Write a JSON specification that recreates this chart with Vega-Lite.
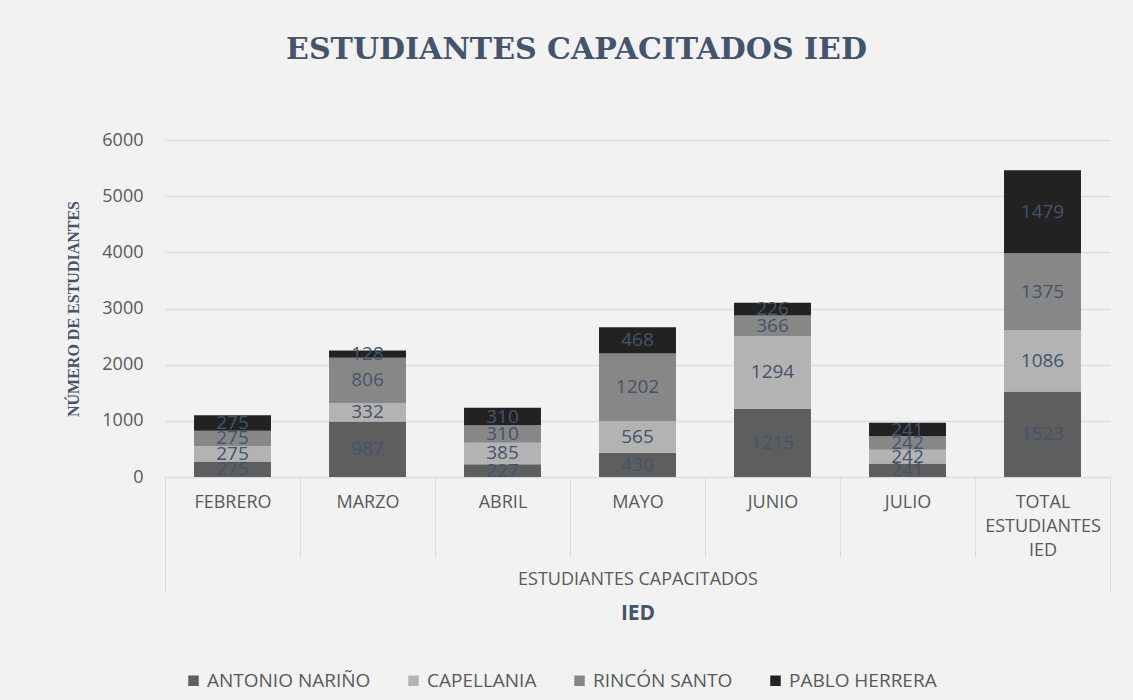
{
  "$schema": "https://vega.github.io/schema/vega-lite/v6.json",
  "width": 945,
  "height": 337,
  "autosize": {"type": "none"},
  "padding": {"left": 165, "top": 140, "right": 23, "bottom": 223},
  "background": "#f2f2f2",
  "title": {
    "text": "ESTUDIANTES CAPACITADOS IED",
    "font": "DejaVu Serif",
    "fontWeight": "bold",
    "fontSize": 30,
    "color": "#44546a",
    "anchor": "middle",
    "dx": -61,
    "offset": 66
  },
  "config": {
    "view": {"stroke": null},
    "font": "Open Sans"
  },
  "layer": [
    {
      "data": {
        "values": [
          {"mes": "FEBRERO", "ied": "ANTONIO NARIÑO", "orden": 1, "valor": 275},
          {"mes": "FEBRERO", "ied": "CAPELLANIA", "orden": 2, "valor": 275},
          {"mes": "FEBRERO", "ied": "RINCÓN SANTO", "orden": 3, "valor": 275},
          {"mes": "FEBRERO", "ied": "PABLO HERRERA", "orden": 4, "valor": 275},
          {"mes": "MARZO", "ied": "ANTONIO NARIÑO", "orden": 1, "valor": 987},
          {"mes": "MARZO", "ied": "CAPELLANIA", "orden": 2, "valor": 332},
          {"mes": "MARZO", "ied": "RINCÓN SANTO", "orden": 3, "valor": 806},
          {"mes": "MARZO", "ied": "PABLO HERRERA", "orden": 4, "valor": 128},
          {"mes": "ABRIL", "ied": "ANTONIO NARIÑO", "orden": 1, "valor": 227},
          {"mes": "ABRIL", "ied": "CAPELLANIA", "orden": 2, "valor": 385},
          {"mes": "ABRIL", "ied": "RINCÓN SANTO", "orden": 3, "valor": 310},
          {"mes": "ABRIL", "ied": "PABLO HERRERA", "orden": 4, "valor": 310},
          {"mes": "MAYO", "ied": "ANTONIO NARIÑO", "orden": 1, "valor": 430},
          {"mes": "MAYO", "ied": "CAPELLANIA", "orden": 2, "valor": 565},
          {"mes": "MAYO", "ied": "RINCÓN SANTO", "orden": 3, "valor": 1202},
          {"mes": "MAYO", "ied": "PABLO HERRERA", "orden": 4, "valor": 468},
          {"mes": "JUNIO", "ied": "ANTONIO NARIÑO", "orden": 1, "valor": 1215},
          {"mes": "JUNIO", "ied": "CAPELLANIA", "orden": 2, "valor": 1294},
          {"mes": "JUNIO", "ied": "RINCÓN SANTO", "orden": 3, "valor": 366},
          {"mes": "JUNIO", "ied": "PABLO HERRERA", "orden": 4, "valor": 226},
          {"mes": "JULIO", "ied": "ANTONIO NARIÑO", "orden": 1, "valor": 241},
          {"mes": "JULIO", "ied": "CAPELLANIA", "orden": 2, "valor": 242},
          {"mes": "JULIO", "ied": "RINCÓN SANTO", "orden": 3, "valor": 242},
          {"mes": "JULIO", "ied": "PABLO HERRERA", "orden": 4, "valor": 241},
          {"mes": "TOTAL ESTUDIANTES IED", "ied": "ANTONIO NARIÑO", "orden": 1, "valor": 1523},
          {"mes": "TOTAL ESTUDIANTES IED", "ied": "CAPELLANIA", "orden": 2, "valor": 1086},
          {"mes": "TOTAL ESTUDIANTES IED", "ied": "RINCÓN SANTO", "orden": 3, "valor": 1375},
          {"mes": "TOTAL ESTUDIANTES IED", "ied": "PABLO HERRERA", "orden": 4, "valor": 1479}
        ]
      },
      "encoding": {
        "x": {
          "field": "mes",
          "type": "nominal",
          "sort": null,
          "scale": {"paddingInner": 0, "paddingOuter": 0},
          "axis": {
            "orient": "bottom",
            "title": null,
            "labelAngle": 0,
            "labelExpr": "split(datum.label, ' ')",
            "labelFont": "Open Sans",
            "labelFontSize": 18,
            "labelColor": "#595959",
            "labelLineHeight": 24,
            "labelBaseline": "top",
            "labelPadding": -64,
            "labelLimit": 0,
            "tickBand": "extent",
            "tickSize": 80,
            "tickColor": "#d9dce1",
            "domainColor": "#d9dce1",
            "grid": false
          }
        },
        "order": {"field": "orden", "type": "quantitative"}
      },
      "layer": [
        {
          "mark": {"type": "bar", "width": {"band": 0.57}},
          "encoding": {
            "y": {
              "field": "valor",
              "type": "quantitative",
              "stack": "zero",
              "scale": {"domain": [0, 6000]},
              "axis": {
                "title": "NÚMERO DE ESTUDIANTES",
                "titleFont": "Liberation Serif",
                "titleFontWeight": "bold",
                "titleFontSize": 16,
                "titleColor": "#44546a",
                "titlePadding": 20,
                "values": [0, 1000, 2000, 3000, 4000, 5000, 6000],
                "format": "d",
                "labelFont": "Open Sans",
                "labelFontSize": 18,
                "labelColor": "#595959",
                "labelPadding": 22,
                "ticks": false,
                "domain": false,
                "gridColor": "#d9dee6",
                "gridWidth": 1.5
              }
            },
            "color": {
              "field": "ied",
              "type": "nominal",
              "scale": {
                "domain": ["ANTONIO NARIÑO", "CAPELLANIA", "RINCÓN SANTO", "PABLO HERRERA"],
                "range": ["#5e5e5e", "#b3b3b3", "#878787", "#222222"]
              },
              "legend": {
                "title": null,
                "orient": "none",
                "direction": "horizontal",
                "columns": 4,
                "legendX": 19,
                "legendY": 531,
                "symbolType": "square",
                "symbolSize": 110,
                "symbolStrokeWidth": 0,
                "labelFont": "Open Sans",
                "labelFontSize": 19,
                "labelColor": "#595959",
                "labelLimit": 0,
                "columnPadding": 33
              }
            }
          }
        },
        {
          "mark": {"type": "text", "font": "Open Sans", "fontSize": 19, "color": "#44546a", "baseline": "middle"},
          "encoding": {
            "y": {"field": "valor", "type": "quantitative", "stack": "zero", "bandPosition": 0.5},
            "text": {"field": "valor", "type": "quantitative"}
          }
        }
      ]
    },
    {
      "data": {"values": [{"grupo": "ESTUDIANTES CAPACITADOS"}]},
      "mark": {"type": "rule", "strokeOpacity": 0},
      "encoding": {
        "x": {
          "field": "grupo",
          "type": "nominal",
          "scale": {"paddingInner": 0, "paddingOuter": 0},
          "axis": {
            "orient": "bottom",
            "title": "IED",
            "titleFont": "Open Sans",
            "titleFontWeight": "bold",
            "titleFontSize": 21,
            "titleColor": "#44546a",
            "titlePadding": 10,
            "labelAngle": 0,
            "labelFont": "Open Sans",
            "labelFontSize": 18,
            "labelColor": "#595959",
            "labelBaseline": "top",
            "labelPadding": -22,
            "labelLimit": 0,
            "tickBand": "extent",
            "tickSize": 115,
            "tickColor": "#d9dce1",
            "domain": false,
            "grid": false
          }
        }
      }
    }
  ],
  "resolve": {"scale": {"x": "independent"}, "axis": {"x": "independent"}}
}
